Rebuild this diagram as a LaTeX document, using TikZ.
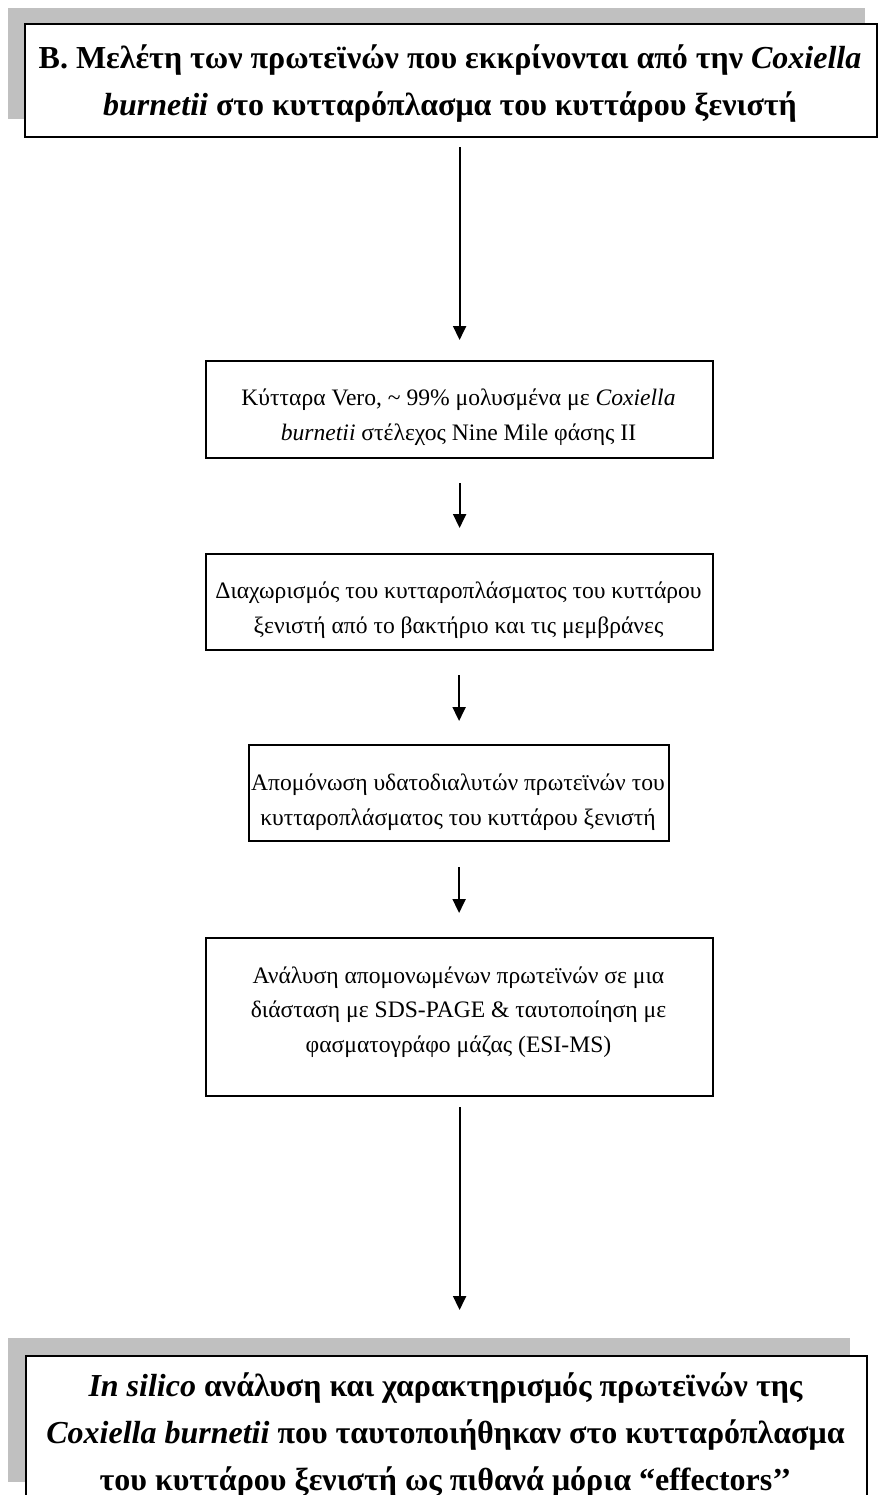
\documentclass[tikz,border=0pt]{standalone}
\usepackage{fontspec}
\setmainfont{Liberation Serif}
\usetikzlibrary{arrows.meta}
\definecolor{shadegray}{RGB}{192,192,192}
\begin{document}
\begin{tikzpicture}[x=1pt,y=-1pt,
  frame/.style={draw=black, line width=2.2pt, fill=white, inner sep=0pt, anchor=north west},
  backshade/.style={fill=shadegray, draw=none, inner sep=0pt, anchor=north west},
  steptext/.style={align=center, inner sep=0pt, anchor=base, font=\fontsize{23.6}{34.5}\selectfont},
  headtext/.style={align=center, inner sep=0pt, anchor=base, font=\bfseries\fontsize{32}{47}\selectfont},
  flow/.style={line width=2pt, -{Triangle[length=14pt,width=13pt]}}]
\useasboundingbox (0,0) rectangle (878,1495);
\clip (0,0) rectangle (878,1495);

% heading box with its grey shadow (text nodes are placed by the baseline of their last line)
\node[backshade, minimum width=857pt, minimum height=111pt] (s1) at (8,8) {};
\node[frame, minimum width=852pt, minimum height=113pt] (b1) at (24,23) {};
\node[headtext] (t1) at (450,115.5)
  {Β. Μελέτη των πρωτεϊνών που εκκρίνονται από την \textit{Coxiella}\\
   \textit{burnetii} στο κυτταρόπλασμα του κυττάρου ξενιστή};

% experimental steps
\node[frame, minimum width=507pt, minimum height=97pt] (b2) at (205,360) {};
\node[steptext] (t2) at (458.5,440)
  {Κύτταρα Vero, \textasciitilde{} 99\% μολυσμένα με \textit{Coxiella}\\
   \textit{burnetii} στέλεχος Nine Mile φάσης II};

\node[frame, minimum width=507pt, minimum height=96pt] (b3) at (205,553) {};
\node[steptext] (t3) at (458.5,633)
  {Διαχωρισμός του κυτταροπλάσματος του κυττάρου\\
   ξενιστή από το βακτήριο και τις μεμβράνες};

\node[frame, minimum width=420pt, minimum height=96pt] (b4) at (248,744) {};
\node[steptext] (t4) at (458,825)
  {Απομόνωση υδατοδιαλυτών πρωτεϊνών του\\
   κυτταροπλάσματος του κυττάρου ξενιστή};

\node[frame, minimum width=507pt, minimum height=158pt] (b5) at (205,937) {};
\node[steptext] (t5) at (458.5,1052)
  {Ανάλυση απομονωμένων πρωτεϊνών σε μια\\
   διάσταση με SDS-PAGE \& ταυτοποίηση με\\
   φασματογράφο μάζας (ESI-MS)};

% final box with its grey shadow
\node[backshade, minimum width=842pt, minimum height=144pt] (s6) at (8,1338) {};
\node[frame, minimum width=841pt, minimum height=170pt] (b6) at (25,1355) {};
\node[headtext] (t6) at (445.5,1490)
  {\textit{In silico} ανάλυση και χαρακτηρισμός πρωτεϊνών της\\
   \textit{Coxiella burnetii} που ταυτοποιήθηκαν στο κυτταρόπλασμα\\
   του κυττάρου ξενιστή ως πιθανά μόρια “effectors’’};

% connectors
\draw[flow, shorten <=9pt, shorten >=20pt] (b1.south -| b2.north) -- (b2.north);
\draw[flow, shorten <=24pt, shorten >=25pt] (b2.south) -- (b3.north);
\draw[flow, shorten <=24pt, shorten >=23pt] (b3.south -| b4.north) -- (b4.north);
\draw[flow, shorten <=25pt, shorten >=24pt] (b4.south) -- (b5.north -| b4.south);
\draw[flow, shorten <=10pt, shorten >=45pt] (b5.south) -- (b6.north -| b5.south);
\end{tikzpicture}
\end{document}
